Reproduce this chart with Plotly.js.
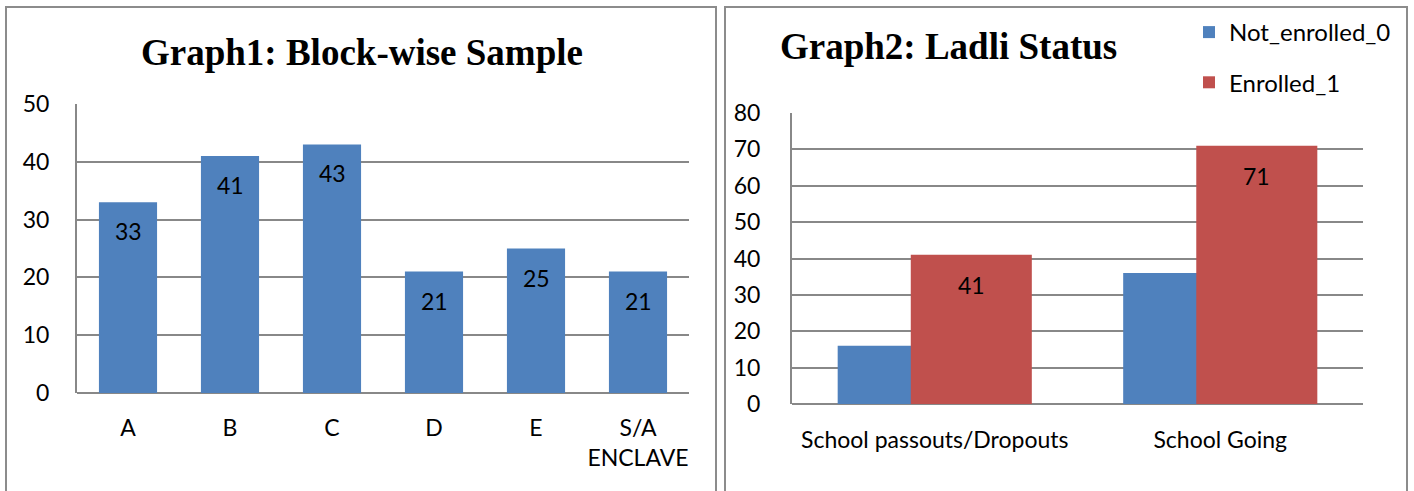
<!DOCTYPE html>
<html>
<head>
<meta charset="utf-8">
<script src="https://cdn.plot.ly/plotly-3.0.1.min.js"></script>
<style>
  html, body { margin: 0; padding: 0; background: #ffffff; }
  #chart { width: 1414px; height: 491px; }
</style>
</head>
<body>
<div id="chart"></div>
<script>
// Graph 1: block-wise sample sizes
const blocks = ['A', 'B', 'C', 'D', 'E', 'S/A<br>ENCLAVE'];
const blockSample = [33, 41, 43, 21, 25, 21];

// Graph 2: Ladli enrolment status by schooling group
const groups = ['School passouts/Dropouts', 'School Going'];
const notEnrolled = [16, 36];
const enrolled = [41, 71];
const seriesNames = ['Not_enrolled_0', 'Enrolled_1'];

const W = 1414, H = 491;
const px = v => v / W;          // pixel x -> paper x
const py = v => 1 - v / H;      // pixel y (from top) -> paper y

const BLUE = '#4F81BD';
const RED = '#C0504D';
const GRID = '#888888';
const FONT = 'Lato, "Open Sans", sans-serif';
const SERIF = '"Liberation Serif", "Times New Roman", serif';

const traces = [
  {
    type: 'bar', x: blocks, y: blockSample, xaxis: 'x', yaxis: 'y',
    marker: { color: BLUE }, width: 0.57, showlegend: false, hoverinfo: 'x+y'
  },
  {
    type: 'bar', name: seriesNames[0], x: groups, y: notEnrolled, xaxis: 'x2', yaxis: 'y2',
    marker: { color: BLUE }, width: 0.424, offset: -0.34, legendgroup: 'g0'
  },
  {
    type: 'bar', name: seriesNames[1], x: groups, y: enrolled, xaxis: 'x2', yaxis: 'y2',
    marker: { color: RED }, width: 0.424, offset: -0.084, legendgroup: 'g1'
  }
];

// value labels sit inside the bars, just below their tops
const labelFont = { family: FONT, size: 23, color: '#000' };
const annotations = [];
blocks.forEach((b, i) => annotations.push({
  x: b, y: blockSample[i], xref: 'x', yref: 'y', text: String(blockSample[i]),
  showarrow: false, yanchor: 'middle', yshift: -29, font: labelFont
}));
groups.forEach((g, i) => annotations.push({
  x: g, y: enrolled[i], xref: 'x2', yref: 'y2', text: String(enrolled[i]),
  showarrow: false, yanchor: 'middle', yshift: -30, xshift: 0.128 * 285.5, font: labelFont
}));

// chart titles
annotations.push({
  text: '<b>Graph1: Block-wise Sample</b>', xref: 'paper', yref: 'paper',
  x: px(362), y: py(52), xanchor: 'center', yanchor: 'middle', showarrow: false,
  font: { family: SERIF, size: 37, color: '#000' }
});
annotations.push({
  text: '<b>Graph2: Ladli Status</b>', xref: 'paper', yref: 'paper',
  x: px(778), y: py(46), xanchor: 'left', yanchor: 'middle', showarrow: false,
  font: { family: SERIF, size: 37, color: '#000' }
});

const axisFont = { family: FONT, size: 23, color: '#000' };

const layout = {
  width: W, height: H,
  margin: { l: 0, r: 0, t: 0, b: 0 },
  paper_bgcolor: '#fff', plot_bgcolor: '#fff',
  barmode: 'overlay',
  showlegend: true,
  legend: {
    x: px(1189), y: py(10), xanchor: 'left', yanchor: 'top',
    font: { family: FONT, size: 24, color: '#000' },
    traceorder: 'grouped', tracegroupgap: 16, bgcolor: 'rgba(0,0,0,0)'
  },
  xaxis: {
    domain: [px(77), px(689)], anchor: 'y', type: 'category',
    showgrid: false, zeroline: false, showline: false, ticks: '',
    ticklabelstandoff: 19, tickfont: axisFont
  },
  yaxis: {
    domain: [py(393), py(104)], anchor: 'x', range: [0, 50], dtick: 10,
    showgrid: true, gridcolor: GRID, gridwidth: 2,
    zeroline: true, zerolinecolor: GRID, zerolinewidth: 2,
    showline: true, linecolor: GRID, linewidth: 2, ticks: '',
    ticklabelstandoff: 21, tickfont: axisFont
  },
  xaxis2: {
    domain: [px(792), px(1363)], anchor: 'y2', type: 'category',
    showgrid: false, zeroline: false, showline: false, ticks: '',
    ticklabelstandoff: 20, tickfont: axisFont
  },
  yaxis2: {
    domain: [py(404), py(113)], anchor: 'x2', range: [0, 80], dtick: 10,
    showgrid: true, gridcolor: GRID, gridwidth: 2,
    zeroline: true, zerolinecolor: GRID, zerolinewidth: 2,
    showline: true, linecolor: GRID, linewidth: 2, ticks: '',
    ticklabelstandoff: 25, tickfont: axisFont
  },
  annotations: annotations,
  shapes: [
    { type: 'rect', xref: 'paper', yref: 'paper', x0: px(6), x1: px(716), y0: -0.1, y1: py(7),
      line: { color: '#8c8c8c', width: 2 } },
    { type: 'rect', xref: 'paper', yref: 'paper', x0: px(725), x1: px(1407), y0: -0.1, y1: py(7),
      line: { color: '#8c8c8c', width: 2 } }
  ]
};

Plotly.newPlot('chart', traces, layout, { displayModeBar: false, staticPlot: true });
</script>
</body>
</html>
